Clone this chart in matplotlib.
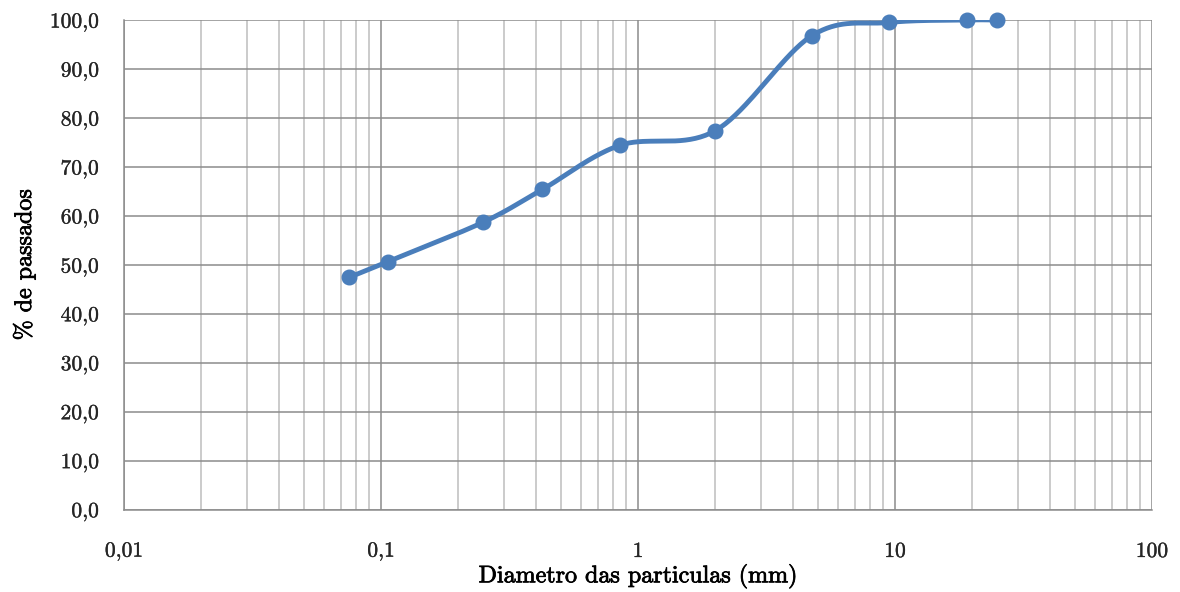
import numpy as np
import matplotlib
matplotlib.use("Agg")
import matplotlib.pyplot as plt
import matplotlib.patheffects as pe
from matplotlib.ticker import FixedLocator, FuncFormatter, NullFormatter

plt.rcParams['font.family'] = ['cmr10', 'DejaVu Serif']
plt.rcParams['axes.formatter.use_mathtext'] = True

# Sieve opening (mm) and cumulative percent passing
diametro_mm = [0.075, 0.106, 0.25, 0.425, 0.85, 2.0, 4.75, 9.5, 19.0, 25.0]
passados = [47.4, 50.6, 58.7, 65.4, 74.4, 77.4, 96.8, 99.5, 100.0, 100.0]

x_ticks = [0.01, 0.1, 1, 10, 100]
x_tick_labels = ["0,01", "0,1", "1", "10", "100"]
y_ticks = list(range(0, 101, 10))
y_tick_labels = [f"{v:.1f}".replace(".", ",") for v in y_ticks]

line_color = "#4a7ebb"


def smooth_curve(lx, ly, n=40):
    """Cubic Bezier smoothing through the points (Catmull-Rom style tangents)."""
    P = np.column_stack([lx, ly])
    m = len(P)
    out = []
    for i in range(m - 1):
        p0 = P[i - 1] if i > 0 else P[i]
        p1 = P[i]
        p2 = P[i + 1]
        p3 = P[i + 2] if i + 2 < m else P[i + 1]
        c1 = p1 + (p2 - p0) / 6.0
        c2 = p2 - (p3 - p1) / 6.0
        t = np.linspace(0, 1, n)[:, None]
        seg = ((1 - t) ** 3) * p1 + 3 * ((1 - t) ** 2) * t * c1 + 3 * (1 - t) * t ** 2 * c2 + t ** 3 * p2
        out.append(seg if i == 0 else seg[1:])
    return np.vstack(out)


fig = plt.figure(figsize=(11.8, 5.92), dpi=100)
ax = fig.add_axes([124 / 1180, 1 - 509.5 / 592, (1152 - 124) / 1180, (509.5 - 20) / 592])

ax.set_xscale("log")
ax.set_xlim(0.01, 100)
ax.set_ylim(0, 100)

curve = smooth_curve(np.log10(diametro_mm), np.array(passados, dtype=float))
ax.plot(10 ** curve[:, 0], curve[:, 1], color=line_color, lw=3.5, solid_capstyle="round", zorder=3)
ax.plot(diametro_mm, passados, linestyle="none", marker="o", markersize=10.5,
        color=line_color, zorder=4, clip_on=False)

ax.xaxis.set_major_locator(FixedLocator(x_ticks))
ax.xaxis.set_major_formatter(FuncFormatter(lambda v, p: x_tick_labels[x_ticks.index(v)] if v in x_ticks else ""))
minor = [m * 10.0 ** e for e in range(-2, 2) for m in range(2, 10)]
ax.xaxis.set_minor_locator(FixedLocator(minor))
ax.xaxis.set_minor_formatter(NullFormatter())
ax.yaxis.set_major_locator(FixedLocator(y_ticks))
ax.set_yticklabels(y_tick_labels)

ax.grid(which="major", axis="both", color="#8c8c8c", lw=1.1)
ax.grid(which="minor", axis="x", color="#bdbdbd", lw=1.1)
ax.set_axisbelow(True)

ax.tick_params(which="both", length=0)
ax.tick_params(axis="y", pad=18, labelsize=15.5, colors="#262626")
ax.tick_params(axis="x", pad=23, labelsize=15.5, colors="#262626")
for lab in ax.get_xticklabels() + ax.get_yticklabels():
    lab.set_path_effects([pe.withStroke(linewidth=0.25, foreground="#262626")])

for s in ["top", "right"]:
    ax.spines[s].set_visible(False)
for s in ["left", "bottom"]:
    ax.spines[s].set_color("#8c8c8c")
    ax.spines[s].set_linewidth(1.1)

xl = ax.set_xlabel("Diametro das particulas (mm)", fontsize=17.3, labelpad=2, color="black")
yl = ax.set_ylabel("% de passados", fontsize=17.3, labelpad=10, color="black")
xl.set_path_effects([pe.withStroke(linewidth=0.55, foreground="black")])
yl.set_path_effects([pe.withStroke(linewidth=0.55, foreground="black")])

fig.savefig("out.png", dpi=100)
